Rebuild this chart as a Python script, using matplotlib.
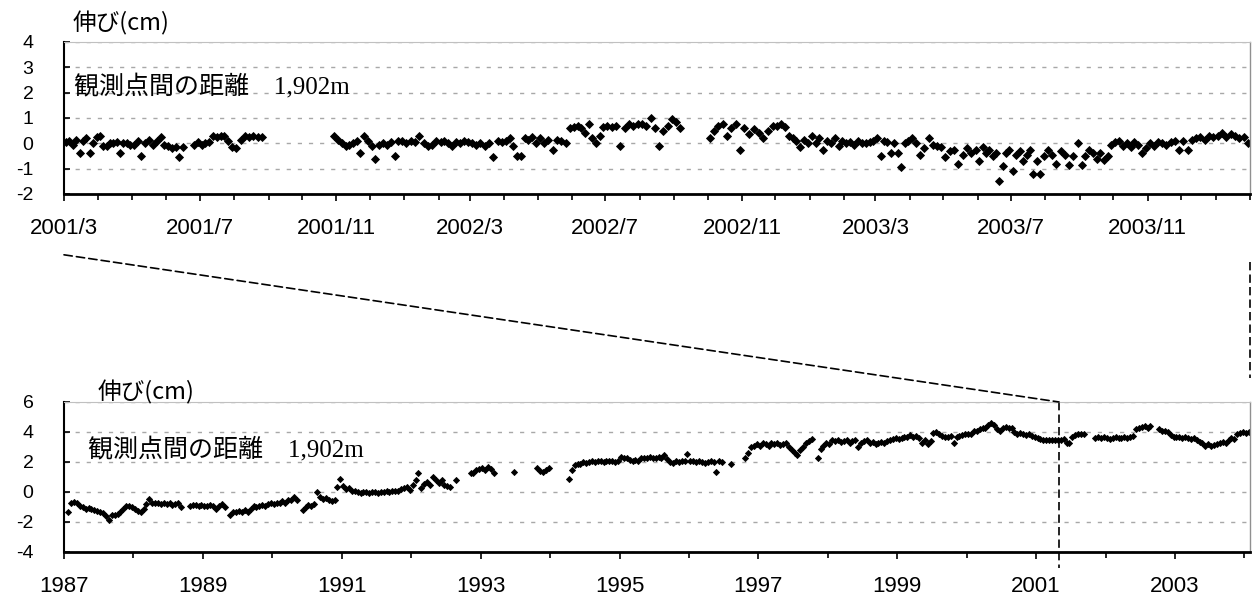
import pandas as pd
import matplotlib
matplotlib.use("Agg")
import matplotlib.pyplot as plt
import matplotlib.dates as mdates
from matplotlib.patches import ConnectionPatch
from matplotlib.ticker import FixedLocator, FuncFormatter

plt.rcParams['font.family'] = ['Liberation Sans', 'Noto Sans CJK JP']
plt.rcParams['axes.unicode_minus'] = False
plt.rcParams['ytick.direction'] = 'in'
plt.rcParams['ytick.major.size'] = 4
plt.rcParams['ytick.major.width'] = 1.2
plt.rcParams['ytick.major.pad'] = 22
plt.rcParams['ytick.labelsize'] = 14
plt.rcParams['xtick.direction'] = 'out'
plt.rcParams['xtick.major.size'] = 5
plt.rcParams['xtick.minor.size'] = 4
plt.rcParams['xtick.major.width'] = 1.2
plt.rcParams['xtick.minor.width'] = 1.2
plt.rcParams['xtick.major.pad'] = 12
plt.rcParams['xtick.labelsize'] = 16

N = None

# 上段: 2001/3 - 2004/1 の伸び(cm) 月ごとの読み取り値
top_2001 = [
    [0.05, 0.1, -0.05, 0.15, -0.4, 0.1, 0.2, -0.4, 0.0, 0.25],
    [0.3, -0.1, -0.1, 0.0, 0.0, 0.05, -0.4, 0.0, 0.0, -0.05],
    [-0.05, 0.1, -0.5, 0.0, 0.15, -0.05, 0.1, 0.25, -0.05],
    [-0.1, -0.2, -0.15, -0.55, -0.15, N, N, -0.05, 0.05],
    [-0.05, 0.0, 0.05, 0.3, 0.25, 0.3, 0.3, 0.1, -0.15],
    [-0.2, 0.15, 0.3, 0.25, 0.3, 0.25, 0.25, N],
    [],
    [N, N, N, N, N, N, N, 0.3],
    [0.15, 0.0, -0.1, -0.05, 0.0, 0.1, -0.4, 0.3, 0.1],
    [-0.1, -0.6, -0.05, 0.0, -0.05, 0.05, -0.5, 0.1, 0.1],
]
top_2002 = [
    [0.0, 0.1, 0.05, 0.3, 0.0, -0.1, -0.05, 0.1],
    [0.05, 0.1, 0.0, -0.1, 0.05, 0.0, 0.1, 0.05],
    [0.0, -0.05, 0.0, -0.1, 0.0, -0.55, 0.1, 0.05],
    [0.1, 0.2, -0.1, -0.5, -0.5, 0.2, 0.15, 0.25, 0.0],
    [0.2, 0.0, 0.15, -0.25, 0.15, 0.1, 0.0, 0.6],
    [0.65, 0.7, 0.6, 0.4, 0.75, 0.2, 0.0, 0.3, 0.65],
    [0.7, 0.65, 0.7, -0.1, 0.6, 0.75, 0.7, 0.75],
    [0.75, 0.7, 1.0, 0.6, -0.1, 0.5, 0.7, 0.95],
    [0.85, 0.6, N, N, N, N, N, N],
    [0.2, 0.5, 0.7, 0.75, 0.3, 0.6, 0.75, -0.25],
    [0.6, 0.35, 0.55, 0.4, 0.2, 0.5, 0.7],
    [0.7, 0.75, 0.65, 0.3, 0.2, 0.1, -0.15, 0.15, 0.0],
]
top_2003 = [
    [0.3, 0.0, 0.2, -0.25, 0.1, 0.0, 0.2, -0.1, 0.1],
    [0.0, 0.05, -0.05, 0.1, 0.0, 0.0, 0.05, 0.1],
    [0.2, -0.5, 0.1, 0.05, -0.4, 0.0, -0.4, -0.95, 0.0, 0.1],
    [0.2, 0.0, -0.45, -0.2, 0.2, -0.05, -0.1, -0.15],
    [-0.55, -0.3, -0.25, -0.8, -0.45, -0.2, -0.4, -0.25],
    [-0.7, -0.15, -0.4, -0.25, -0.5, -0.4, -1.5, -0.9, -0.4, -0.25],
    [-1.1, -0.45, -0.3, -0.7, -0.45, -0.25, -1.2, -0.7, -1.2, -0.5],
    [-0.25, -0.45, -0.8, -0.3, -0.45, -0.85, -0.5, 0.0],
    [-0.85, -0.5, -0.25, -0.4, -0.6, -0.4, -0.65, -0.5, -0.05],
    [0.05, 0.1, -0.1, 0.0, -0.15, 0.05, -0.05, -0.4, -0.2],
    [0.0, -0.1, 0.05, 0.0, -0.05, 0.05, 0.1, -0.25],
    [0.1, -0.25, 0.15, 0.2, 0.25, 0.15, 0.3, 0.25],
]
top_2004 = [
    [0.3, 0.4, 0.25, 0.35, 0.3, 0.2, 0.25, 0.0],
]

# 下段: 1987 - 2004 半月ごとの読み取り値
bot_years = list(range(1987, 2005))
bot_vals = [
    [N, -1.3, -0.7, -0.65, -0.75, -0.95, -1.0, -1.1, -1.05, -1.15, -1.2, -1.25, -1.3, -1.4, -1.6, -1.85, -1.55, -1.5, -1.45, -1.3, -1.1, -0.9, -0.95, -1.0],
    [-1.15, -1.25, -1.35, -1.1, -0.8, -0.45, -0.75, -0.7, -0.75, -0.8, -0.75, -0.8, -0.75, -0.85, -0.8, -0.7, -1.0, N, N, -0.9, -0.85, -0.85, -0.9, -0.85],
    [-0.9, -0.95, -0.85, -0.95, -1.1, -0.95, -0.8, -1.0, N, -1.55, -1.3, -1.35, -1.25, -1.3, -1.2, -1.3, -1.1, -0.95, -1.0, -0.9, -0.85, -0.95, -0.8, -0.75],
    [-0.8, -0.7, -0.75, -0.6, -0.7, -0.55, -0.5, -0.3, -0.55, N, -1.2, -1.0, -0.85, -0.9, -0.8, 0.0, -0.35, -0.45, -0.4, -0.5, -0.6, -0.5, 0.35, 0.85],
    [0.4, 0.2, 0.25, 0.1, 0.05, 0.0, -0.05, 0.0, 0.0, -0.05, 0.0, 0.0, -0.05, 0.0, 0.0, 0.05, 0.0, 0.1, 0.05, 0.1, 0.2, 0.3, 0.35, 0.15],
    [0.5, 0.8, 1.25, 0.3, 0.55, 0.7, 0.45, 1.0, 0.8, 0.6, 0.8, 0.45, 0.4, 0.35, N, 0.8, N, N, N, N, 1.25, 1.3, 1.45, 1.55],
    [1.6, 1.5, 1.65, 1.55, 1.3, N, N, N, N, N, N, 1.35, N, N, N, N, N, N, N, 1.6, 1.4, 1.35, 1.45, 1.6],
    [N, N, N, N, N, N, 0.9, 1.45, 1.8, 1.85, 1.9, 2.0, 1.95, 2.0, 2.05, 2.0, 2.1, 2.05, 2.0, 2.1, 2.05, 2.1, 2.0, 2.1],
    [2.35, 2.3, 2.3, 2.15, 2.1, 2.15, 2.1, 2.25, 2.3, 2.25, 2.35, 2.3, 2.3, 2.35, 2.3, 2.47, 2.2, 2.0, 1.95, 2.1, 2.0, 2.05, 2.05, 2.55],
    [2.1, 2.05, 2.0, 2.05, 2.0, 1.95, 2.0, 2.05, 2.0, 1.35, 2.1, 2.0, N, N, 1.9, N, N, N, N, 2.3, 2.6, 3.0, 3.1, 3.2],
    [3.1, 3.3, 3.2, 3.1, 3.25, 3.2, 3.3, 3.15, 3.2, 3.25, 3.0, 2.8, 2.6, 2.5, 2.8, 3.0, 3.25, 3.4, 3.55, N, 2.3, 2.9, 3.1, 3.3],
    [3.2, 3.5, 3.4, 3.5, 3.35, 3.4, 3.5, 3.3, 3.4, 3.45, 3.0, 3.3, 3.4, 3.5, 3.3, 3.35, 3.2, 3.3, 3.35, 3.3, 3.4, 3.5, 3.55, 3.6],
    [3.55, 3.6, 3.7, 3.65, 3.8, 3.7, 3.75, 3.6, 3.3, 3.45, 3.2, 3.4, 3.95, 4.0, 3.9, 3.75, 3.7, 3.65, 3.75, 3.25, 3.7, 3.75, 3.8, 3.85],
    [3.85, 3.9, 4.1, 4.05, 4.2, 4.25, 4.3, 4.45, 4.6, 4.5, 4.2, 4.05, 4.3, 4.35, 4.25, 4.3, 4.0, 3.9, 3.95, 3.85, 3.8, 3.9, 3.75, 3.7],
    [3.6, 3.55, 3.5, 3.5, 3.45, 3.5, 3.45, 3.5, 3.45, 3.55, 3.3, 3.25, 3.65, 3.8, 3.85, 3.9, 3.85, N, N, N, 3.6, 3.7, 3.6, 3.65],
    [3.6, 3.55, 3.6, 3.65, 3.6, 3.6, 3.65, 3.6, 3.7, 3.75, 4.2, 4.3, 4.35, 4.4, 4.3, 4.4, N, N, 4.2, 4.1, 4.05, 4.0, 3.8, 3.7],
    [3.65, 3.7, 3.6, 3.65, 3.6, 3.55, 3.6, 3.5, 3.35, 3.25, 3.1, 3.2, 3.05, 3.15, 3.2, 3.25, 3.35, 3.3, 3.5, 3.6, 3.55, 3.9, 3.95, 4.0],
    [3.95, 4.0],
]

label_dist = '観測点間の距離　1,902m'
label_unit = '伸び(cm)'
zoom_start = 2001.33   # 上段の開始位置 (下段の年)

# 上段の点
top_months = pd.date_range('2001-03-01', '2004-01-01', freq='MS')
top_vals = top_2001 + top_2002 + top_2003 + top_2004
tx, ty = [], []
for start, vals in zip(top_months, top_vals):
    days = start.days_in_month
    for i, v in enumerate(vals):
        if v is None:
            continue
        tx.append(start + pd.Timedelta(days=(i + 0.5) * days / len(vals)))
        ty.append(v)

# 下段の点
bx, by = [], []
for year, vals in zip(bot_years, bot_vals):
    for i, v in enumerate(vals):
        if v is None:
            continue
        bx.append(year + (i + 0.5) / 24)
        by.append(v)

fig = plt.figure(figsize=(12.56, 6.01), dpi=100)
ax1 = fig.add_axes([64 / 1256, 1 - 194 / 601, 1186 / 1256, 152 / 601])
ax2 = fig.add_axes([64 / 1256, 1 - 552 / 601, 1186 / 1256, 150 / 601])


def style(ax):
    ax.spines['top'].set_color('#c0c0c0')
    ax.spines['top'].set_linewidth(0.8)
    ax.spines['right'].set_color('#909090')
    ax.spines['right'].set_linewidth(1)
    ax.spines['left'].set_linewidth(1.5)
    ax.spines['bottom'].set_linewidth(2)
    ax.yaxis.grid(True, color='#a8a8a8', linestyle=(0, (3, 5)), lw=1)
    ax.set_axisbelow(True)


# 上段
ax1.plot(mdates.date2num(tx), ty, 'D', color='black', ms=3.8, mew=0.6, linestyle='none')
ax1.set_xlim(mdates.date2num(pd.Timestamp('2001-03-01')), mdates.date2num(pd.Timestamp('2004-02-01')))
ax1.set_ylim(-2, 4)
ax1.set_yticks(range(-2, 5))
ax1.xaxis.set_major_locator(mdates.MonthLocator(bymonth=[3, 7, 11]))
ax1.xaxis.set_minor_locator(mdates.MonthLocator())
ax1.xaxis.set_major_formatter(FuncFormatter(
    lambda x, pos: '%d/%d' % (mdates.num2date(x).year, mdates.num2date(x).month)))
style(ax1)
ax1.text(0.0085, 0.71, label_dist, transform=ax1.transAxes, fontsize=18,
         family=['Liberation Serif', 'Noto Sans CJK JP'], va='center', ha='left')
ax1.text(0.0076, 1.125, label_unit, transform=ax1.transAxes, fontsize=17,
         family=['Noto Sans CJK JP', 'DejaVu Sans'], va='center', ha='left')

# 下段
ax2.plot(bx, by, 'D', color='black', ms=3.1, mew=0.6, linestyle='none')
ax2.set_xlim(1987, 2004.08)
ax2.set_ylim(-4, 6)
ax2.set_yticks(range(-4, 7, 2))
ax2.xaxis.set_major_locator(FixedLocator(range(1987, 2005, 2)))
ax2.xaxis.set_minor_locator(FixedLocator(range(1988, 2005, 2)))
ax2.xaxis.set_major_formatter(FuncFormatter(lambda x, pos: '%d' % round(x)))
style(ax2)
ax2.text(0.02, 0.687, label_dist, transform=ax2.transAxes, fontsize=18,
         family=['Liberation Serif', 'Noto Sans CJK JP'], va='center', ha='left')
ax2.text(0.028, 1.067, label_unit, transform=ax2.transAxes, fontsize=17,
         family=['Noto Sans CJK JP', 'DejaVu Sans'], va='center', ha='left')

# 拡大範囲を示す破線
dash = (0, (5, 2.5))
con = ConnectionPatch(xyA=(0.0, -0.40), coordsA=ax1.transAxes,
                      xyB=(zoom_start, 1.0), coordsB=ax2.get_xaxis_transform(),
                      color='black', lw=1.2, linestyle=dash)
fig.add_artist(con)
ax2.plot([zoom_start, zoom_start], [1.0, -0.107], transform=ax2.get_xaxis_transform(),
         color='black', lw=1.2, linestyle=dash, clip_on=False)
ax1.plot([1.0, 1.0], [-0.447, -1.21], transform=ax1.transAxes,
         color='black', lw=1.2, linestyle=dash, clip_on=False)

fig.savefig('out.png', dpi=100)
